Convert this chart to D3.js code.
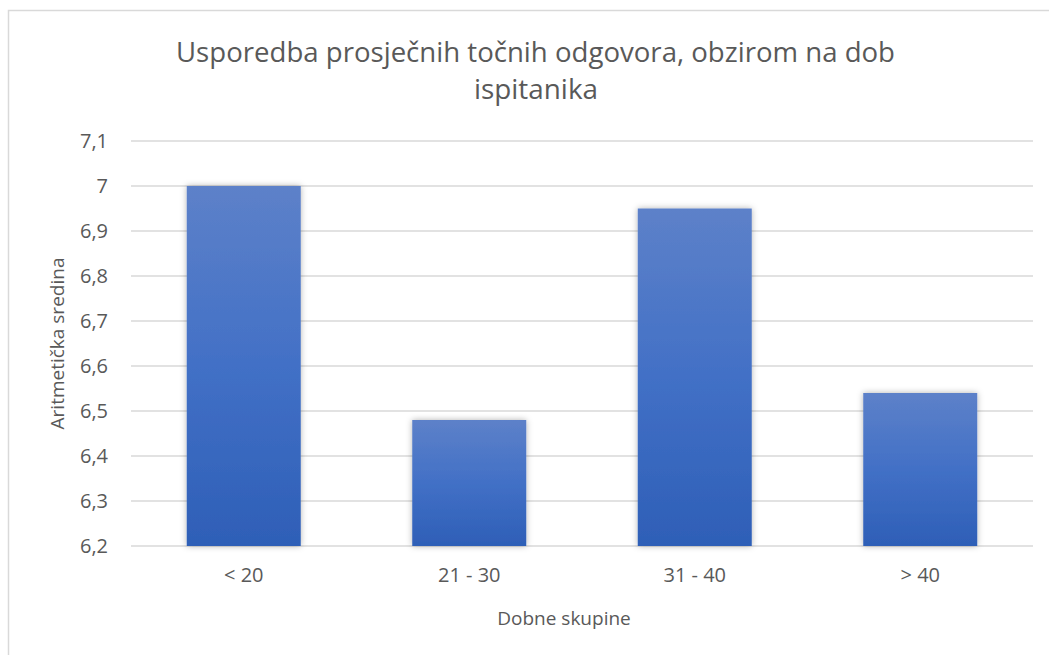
<!DOCTYPE html>
<html><head><meta charset="utf-8">
<script src="https://cdn.jsdelivr.net/npm/d3@7"></script>
<style>
html,body{margin:0;padding:0;background:#fff;}
svg{display:block;}
text{font-family:"Open Sans",sans-serif;fill:#595959;}
</style></head>
<body>
<svg id="chart" width="1049" height="655"></svg>
<script>
const categories = ["< 20", "21 - 30", "31 - 40", "> 40"];
const values = [7.0, 6.48, 6.95, 6.54];
const yTicks = [6.2, 6.3, 6.4, 6.5, 6.6, 6.7, 6.8, 6.9, 7.0, 7.1];
const titleLines = ["Usporedba prosječnih točnih odgovora, obzirom na dob", "ispitanika"];
const xTitle = "Dobne skupine";
const yTitle = "Aritmetička sredina";

const svg = d3.select("#chart");
const W = 1049, H = 655;
const m = {left: 131, right: 1033, top: 141, bottom: 546};

// chart border (cropped on right / bottom)
svg.append("rect").attr("x", 8.5).attr("y", 10.5).attr("width", 1100).attr("height", 700)
  .attr("fill", "#fff").attr("stroke", "#d9d9d9").attr("stroke-width", 1.5);

const defs = svg.append("defs");
const grad = defs.append("linearGradient").attr("id", "barGrad")
  .attr("x1", 0).attr("y1", 0).attr("x2", 0).attr("y2", 1);
grad.append("stop").attr("offset", "0%").attr("stop-color", "#5d81c9");
grad.append("stop").attr("offset", "50%").attr("stop-color", "#4270c6");
grad.append("stop").attr("offset", "100%").attr("stop-color", "#2e5fb7");
const f = defs.append("filter").attr("id", "shadow").attr("x", "-20%").attr("y", "-20%").attr("width", "140%").attr("height", "140%");
f.append("feDropShadow").attr("dx", 0).attr("dy", 0).attr("stdDeviation", 3)
  .attr("flood-color", "#000").attr("flood-opacity", 0.3);

const x = d3.scaleBand().domain(categories).range([m.left, m.right])
  .paddingInner(0.4945).paddingOuter(0.4945 / 2);
const y = d3.scaleLinear().domain([6.2, 7.1]).range([m.bottom, m.top]);

// gridlines
svg.append("g").selectAll("line").data(yTicks).join("line")
  .attr("x1", m.left).attr("x2", m.right)
  .attr("y1", d => y(d)).attr("y2", d => y(d))
  .attr("stroke", "#d9d9d9").attr("stroke-width", 1.5);

// y axis labels
const yAxis = d3.axisLeft(y).tickValues(yTicks)
  .tickFormat(d => d3.format("~g")(+d.toFixed(1)).replace(".", ","))
  .tickSize(0).tickPadding(23);
const ya = svg.append("g").attr("transform", `translate(${m.left},0)`).call(yAxis);
ya.select(".domain").remove();
ya.selectAll("text").style("font-size", "20px").style("font-family", "Open Sans").attr("fill", "#595959");

// bars
svg.append("g").selectAll("rect").data(values).join("rect")
  .attr("x", (d, i) => x(categories[i]))
  .attr("width", x.bandwidth())
  .attr("y", d => y(d))
  .attr("height", d => y(6.2) - y(d))
  .attr("fill", "url(#barGrad)")
  .attr("filter", "url(#shadow)");

// x axis labels
const xAxis = d3.axisBottom(x).tickSize(0).tickPadding(22);
const xa = svg.append("g").attr("transform", `translate(0,${m.bottom})`).call(xAxis);
xa.select(".domain").remove();
xa.selectAll("text").style("font-size", "20px").style("font-family", "Open Sans").attr("fill", "#595959");

// title
const tl = svg.append("g");
tl.append("text").attr("x", 535.5).attr("y", 62).attr("text-anchor", "middle")
  .style("font-size", "27px").attr("textLength", 719).attr("lengthAdjust", "spacingAndGlyphs")
  .text(titleLines[0]);
tl.append("text").attr("x", 536).attr("y", 99).attr("text-anchor", "middle")
  .style("font-size", "27px").attr("textLength", 124).attr("lengthAdjust", "spacingAndGlyphs")
  .text(titleLines[1]);

// axis titles
svg.append("text").attr("x", 564).attr("y", 625).attr("text-anchor", "middle")
  .style("font-size", "19px").text(xTitle);
svg.append("text").attr("transform", `translate(64,343.5) rotate(-90)`).attr("text-anchor", "middle")
  .style("font-size", "19px").text(yTitle);
</script>
</body></html>
